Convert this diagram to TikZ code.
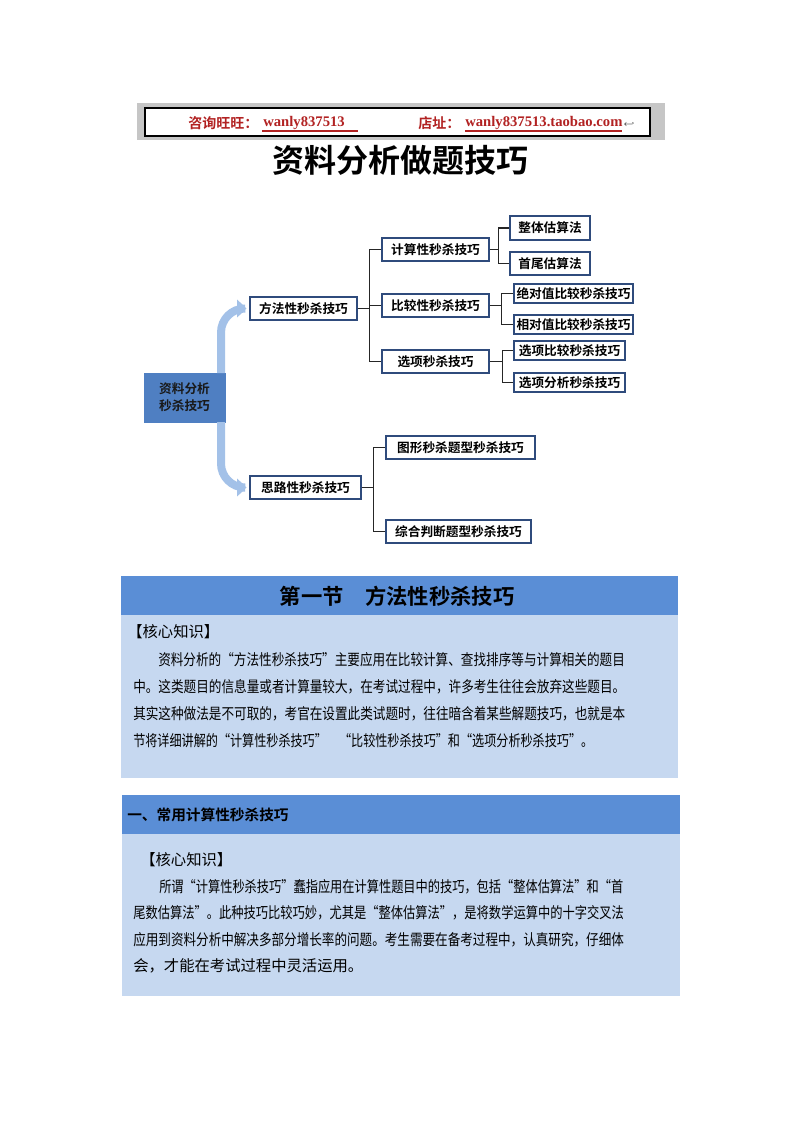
\documentclass[tikz,border=0pt]{standalone}
\usepackage{fontspec}
\usepackage{graphicx}
\setmainfont{Liberation Serif}
\newfontfamily\cjk{Noto Sans CJK SC}
\newfontfamily\cjkb{Noto Sans CJK SC Bold}
\usetikzlibrary{arrows.meta}
\definecolor{bdr}{HTML}{2F4B7C}
\definecolor{rootc}{HTML}{4F7FC2}
\definecolor{arrc}{HTML}{A3C1E8}
\definecolor{hdr}{HTML}{5A8ED6}
\definecolor{bodyc}{HTML}{C6D8F0}
\definecolor{redc}{HTML}{B22222}
\newcommand{\fitline}[2]{\resizebox{#1pt}{\height}{#2}}
\begin{document}
\begin{tikzpicture}[x=0.75pt,y=-0.75pt,
  box/.style={draw=bdr,line width=1.2pt,fill=white,inner sep=0pt,font=\cjkb\fontsize{9.5}{10}\selectfont},
  conn/.style={draw=black!85,line width=0.9pt},
  bigarr/.style={draw=arrc,line width=6pt,rounded corners=18pt,-{Triangle[length=7pt,width=13pt]}},
  para/.style={anchor=west,inner sep=0pt,font=\cjk\fontsize{11.5}{12}\selectfont}]
\useasboundingbox (0,0) rectangle (800,1132);
\fill[white] (0,0) rectangle (800,1132);
% header
\fill[gray!45] (137,103) rectangle (665,140);
\draw[black,fill=white,line width=0.8pt] (145,108) rectangle (650,136);
\node[anchor=west,inner sep=0pt,text=redc,font=\cjkb\fontsize{10.5}{11}\selectfont] (q1) at (188,123) {咨询旺旺：};
\node[anchor=west,inner sep=0pt,text=redc,font=\fontsize{11}{11}\selectfont\bfseries] (q2) at (263,123) {wanly837513};
\draw[redc,line width=0.8pt] (262,131) -- (358,131);
\node[anchor=west,inner sep=0pt,text=redc,font=\cjkb\fontsize{10.5}{11}\selectfont] (q3) at (418,123) {店址：};
\node[anchor=west,inner sep=0pt,text=redc,font=\fontsize{11}{11}\selectfont\bfseries] (q4) at (465,123) {wanly837513.taobao.com};
\draw[redc,line width=0.8pt] (465,131) -- (622,131);
\node[anchor=west,inner sep=0pt,font=\fontsize{6}{6}\selectfont] (q5) at (623,124) {$\hookleftarrow$};
% title
\node[font=\cjkb\fontsize{24}{25}\selectfont] (title) at (400,160) {资料分析做题技巧};
% tree
\node[draw=rootc,fill=rootc,minimum width=60.75pt,minimum height=36.75pt,inner sep=0pt,align=left,font=\cjkb\fontsize{9.5}{13}\selectfont,text=black!90] (root) at (184.5,397.5) {资料分析\\秒杀技巧};
\node[box,minimum width=80.25pt,minimum height=17.25pt] (ff) at (303.5,308.5) {方法性秒杀技巧};
\node[box,minimum width=83.25pt,minimum height=17.25pt] (sl) at (305.5,487.5) {思路性秒杀技巧};
\node[box,minimum width=80.25pt,minimum height=17.25pt] (js) at (435.5,249.5) {计算性秒杀技巧};
\node[box,minimum width=80.25pt,minimum height=17.25pt] (bj) at (435.5,305.5) {比较性秒杀技巧};
\node[box,minimum width=80.25pt,minimum height=17.25pt] (xx) at (435.5,361.5) {选项秒杀技巧};
\node[box,minimum width=60pt,minimum height=18pt] (zt) at (550,228) {整体估算法};
\node[box,minimum width=60pt,minimum height=17.25pt] (sw) at (550,263.5) {首尾估算法};
\node[box,minimum width=89.25pt,minimum height=14.25pt] (jd) at (573.5,293.5) {绝对值比较秒杀技巧};
\node[box,minimum width=89.25pt,minimum height=14.25pt] (xd) at (573.5,324.5) {相对值比较秒杀技巧};
\node[box,minimum width=83.25pt,minimum height=14.25pt] (xb) at (569.5,350.5) {选项比较秒杀技巧};
\node[box,minimum width=83.25pt,minimum height=14.25pt] (xf) at (569.5,382.5) {选项分析秒杀技巧};
\node[box,minimum width=111.75pt,minimum height=17.25pt] (tx) at (460.5,447.5) {图形秒杀题型秒杀技巧};
\node[box,minimum width=108.75pt,minimum height=17.25pt] (zh) at (458.5,531.5) {综合判断题型秒杀技巧};
% connectors
\draw[conn] (ff.east) -- ++(12,0) |- (js.west);
\draw[conn] (ff.east) -- ++(12,0) |- (bj.west);
\draw[conn] (ff.east) -- ++(12,0) |- (xx.west);
\draw[conn] (js.east) -- ++(9,0) |- (zt.west);
\draw[conn] (js.east) -- ++(9,0) |- (sw.west);
\draw[conn] (bj.east) -- ++(12,0) |- (jd.west);
\draw[conn] (bj.east) -- ++(12,0) |- (xd.west);
\draw[conn] (xx.east) -- ++(13,0) |- (xb.west);
\draw[conn] (xx.east) -- ++(13,0) |- (xf.west);
\draw[conn] (sl.east) -- ++(12,0) |- (tx.west);
\draw[conn] (sl.east) -- ++(12,0) |- (zh.west);
% big arrows
\coordinate (a0) at (221,373);
\coordinate (a1) at (221,422);
\draw[bigarr] (a0) |- ([xshift=-2pt]ff.west);
\draw[bigarr] (a1) |- ([xshift=-2pt]sl.west);
% section 1
\fill[bodyc] (121,576) rectangle (678,778);
\fill[hdr] (121,576) rectangle (678,615);
\node[font=\cjkb\fontsize{16}{16}\selectfont] (s1t) at (397,596) {第一节\quad 方法性秒杀技巧};
\node[para] (s1a) at (127,632) {【核心知识】};
\node[para] (s1b) at (158,660) {\fitline{350}{资料分析的“方法性秒杀技巧”主要应用在比较计算、查找排序等与计算相关的题目}};
\node[para] (s1c) at (133,687) {\fitline{369}{中。这类题目的信息量或者计算量较大，在考试过程中，许多考生往往会放弃这些题目。}};
\node[para] (s1d) at (133,714) {\fitline{369}{其实这种做法是不可取的，考官在设置此类试题时，往往暗含着某些解题技巧，也就是本}};
\node[para] (s1e) at (133,741) {\fitline{345}{节将详细讲解的“计算性秒杀技巧”\quad“比较性秒杀技巧”和“选项分析秒杀技巧”。}};
% section 2
\fill[bodyc] (122,795) rectangle (680,996);
\fill[hdr] (122,795) rectangle (680,834);
\node[anchor=west,inner sep=0pt,font=\cjkb\fontsize{11}{11}\selectfont] (s2t) at (127,815) {一、常用计算性秒杀技巧};
\node[para] (s2a) at (140,860) {【核心知识】};
\node[para] (s2b) at (159,887) {\fitline{348}{所谓“计算性秒杀技巧”蠢指应用在计算性题目中的技巧，包括“整体估算法”和“首}};
\node[para] (s2c) at (133,913) {\fitline{368}{尾数估算法”。此种技巧比较巧妙，尤其是“整体估算法”，是将数学运算中的十字交叉法}};
\node[para] (s2d) at (133,940) {\fitline{368}{应用到资料分析中解决多部分增长率的问题。考生需要在备考过程中，认真研究，仔细体}};
\node[para] (s2e) at (133,966) {会，才能在考试过程中灵活运用。};
\end{tikzpicture}
\end{document}
